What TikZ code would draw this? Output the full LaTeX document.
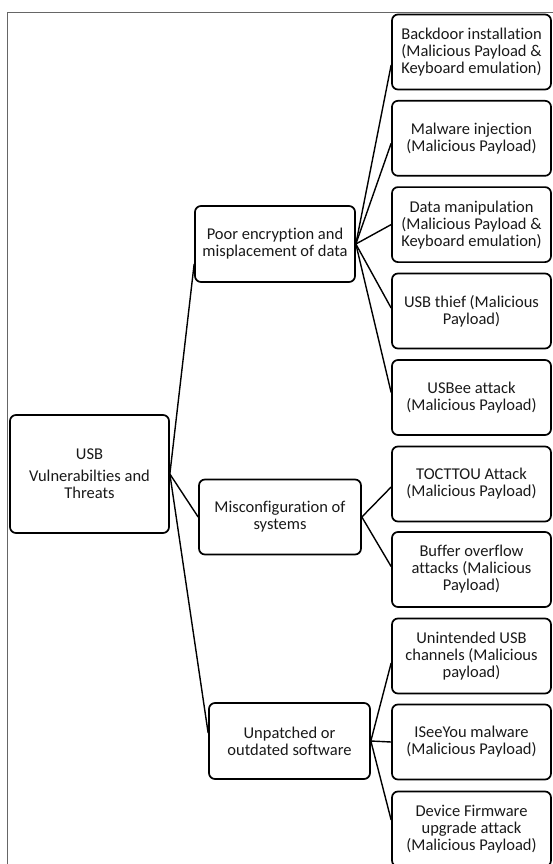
\documentclass[tikz,border=0pt]{standalone}
\usepackage{fontspec}
\setmainfont[Ligatures={NoCommon}]{Carlito}
\begin{document}
\begin{tikzpicture}[x=1pt,y=-1pt,
  box/.style={draw=black,line width=1.7pt,rounded corners=6pt,align=center,
    inner sep=0pt,text=black!90,font=\fontsize{16.5}{17}\selectfont},
  leaf/.style={box,minimum width=159pt,minimum height=75pt},
  mid/.style={box,minimum width=161pt,minimum height=76pt},
  link/.style={draw=black,line width=1.4pt}]
\useasboundingbox (0,0) rectangle (553,864);
\draw[gray!80!black,line width=0.8pt] (560,12) -- (7,12) -- (7,880);
% root
\node[box,minimum width=159pt,minimum height=118pt] (root) at (89.5,474)
  {USB\\[5pt] Vulnerabilties and\\ Threats};
% middle level
\node[mid,minimum width=160pt] (poor) at (275,244) {Poor encryption and\\ misplacement of data};
\node[mid,minimum width=162pt,minimum height=75pt] (misc) at (280,517) {Misconfiguration of\\ systems};
\node[mid] (unp) at (289.5,741) {Unpatched or\\ outdated software};
% leaves
\node[leaf] (b1) at (471.5,52) {Backdoor installation\\ (Malicious Payload \&\\ Keyboard emulation)};
\node[leaf] (b2) at (471.5,138.3) {Malware injection\\ (Malicious Payload)};
\node[leaf] (b3) at (471.5,224.6) {Data manipulation\\ (Malicious Payload \&\\ Keyboard emulation)};
\node[leaf] (b4) at (471.5,311) {USB thief (Malicious\\ Payload)};
\node[leaf] (b5) at (471.5,397.5) {USBee attack\\ (Malicious Payload)};
\node[leaf] (b6) at (471.5,484) {TOCTTOU Attack\\ (Malicious Payload)};
\node[leaf] (b7) at (471.5,569.5) {Buffer overflow\\ attacks (Malicious\\ Payload)};
\node[leaf] (b8) at (471.5,656) {Unintended USB\\ channels (Malicious\\ payload)};
\node[leaf] (b9) at (471.5,742) {ISeeYou malware\\ (Malicious Payload)};
\node[leaf] (b10) at (471.5,829) {Device Firmware\\ upgrade attack\\ (Malicious Payload)};
% connectors
\path[link] (root.east) -- ([yshift=-20pt]poor.west);
\path[link] (root.east) -- (misc.west);
\path[link] (root.east) -- ([yshift=8pt]unp.west);
\path[link] (poor.east) -- ([yshift=-13pt]b1.west);
\path[link] (poor.east) -- ([yshift=-5pt]b2.west);
\path[link] (poor.east) -- (b3.west);
\path[link] (poor.east) -- ([yshift=3pt]b4.west);
\path[link] (poor.east) -- ([yshift=5pt]b5.west);
\path[link] (misc.east) -- ([yshift=-3pt]b6.west);
\path[link] (misc.east) -- ([yshift=3pt]b7.west);
\path[link] (unp.east) -- ([yshift=-7pt]b8.west);
\path[link] (unp.east) -- (b9.west);
\path[link] (unp.east) -- ([yshift=9pt]b10.west);
\end{tikzpicture}
\end{document}
